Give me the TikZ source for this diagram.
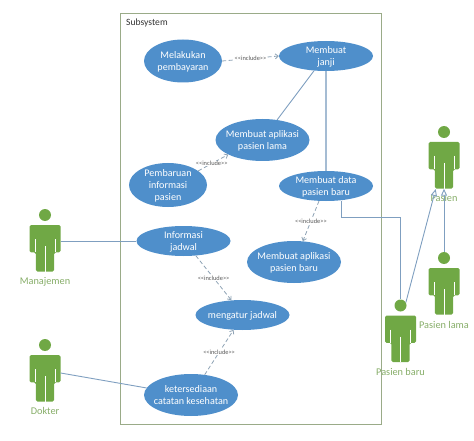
\documentclass[tikz,border=0pt]{standalone}
\usepackage{fontspec}
\setmainfont{Carlito}
\usetikzlibrary{shapes.geometric,arrows.meta}
\definecolor{usefill}{HTML}{4F8FCB}
\definecolor{actgreen}{HTML}{70A845}
\definecolor{actlabel}{HTML}{86AD68}
\definecolor{framec}{HTML}{9AAB88}
\definecolor{linec}{HTML}{7F9FC0}
\definecolor{dashc}{HTML}{8FA3B5}
\newcommand{\usetext}[1]{\smash{\raisebox{-3.5pt}{\makebox[0pt][c]{\begin{tabular}{@{}c@{}}#1\end{tabular}}}}}
\tikzset{
  usecase/.style={ellipse,fill=usefill,text=white,inner sep=0pt,font=\fontsize{10.1}{12.4}\selectfont},
  uselarge/.style={usecase,minimum width=94pt,minimum height=42pt},
  usesmall/.style={usecase,minimum width=94pt,minimum height=30pt},
  usemid/.style={usecase,minimum width=78pt,minimum height=43pt},
  actorlabel/.style={text=actlabel,font=\fontsize{10.3}{12}\selectfont,inner sep=0pt},
  includelabel/.style={fill=white,text=black!65,font=\fontsize{6.4}{7}\selectfont,inner sep=0.6pt},
  includeline/.style={draw=dashc,line width=0.8pt,dash pattern=on 4pt off 2.5pt,-{Straight Barb[length=3pt,width=5pt]}},
  assocline/.style={draw=linec,line width=0.9pt},
  generalline/.style={draw=linec,line width=0.9pt,-{Triangle[open,length=7pt,width=6pt,fill=white]}},
  actorhead/.style={circle,fill=actgreen,minimum size=12pt,inner sep=0pt},
  actorbody/.style={minimum width=31pt,minimum height=46.5pt,inner sep=0pt}
}
\newcommand{\actorfig}[3]{%
  \node[actorhead] (#1head) at (#2,#3-10) {};
  \node[actorbody] (#1) at (#2,#3+23.25) {};
  \begin{scope}[shift={(#2,#3)}]
    \fill[actgreen,rounded corners=1.5pt] (-15.5,0) -- (15.5,0) -- (15.5,27.3) -- (9.2,27.3) -- (9.2,46.5) -- (-9.2,46.5) -- (-9.2,27.3) -- (-15.5,27.3) -- cycle;
    \draw[white,line width=0.8pt] (0,21) -- (0,46.6);
    \draw[white,line width=0.8pt] (-10,14) -- (-10,27.4);
    \draw[white,line width=0.8pt] (10,14) -- (10,27.4);
  \end{scope}}
\newcommand{\inclabel}{{<}{<}include{>}{>}}
\begin{document}
\begin{tikzpicture}[x=1pt,y=-1pt]
\useasboundingbox (0,0) rectangle (474,441);
\node[draw=framec,line width=0.8pt,minimum width=261pt,minimum height=410.5pt,inner sep=0pt] (subsys) at (250.5,218.75) {};
\node[anchor=west,inner sep=0pt,text=black!80,font=\fontsize{9.6}{11}\selectfont] (subsyslabel) at (126,22.5) {Subsystem};

\node[usemid] (bayar) at (183,61) {\usetext{Melakukan\\pembayaran}};
\node[usesmall] (janji) at (326,56) {\usetext{Membuat\\janji}};
\node[uselarge] (lama) at (262.5,140) {\usetext{Membuat aplikasi\\pasien lama}};
\node[usemid,minimum height=44pt] (update) at (168,185) {\usetext{Pembaruan\\informasi\\pasien}};
\node[usesmall] (data) at (326,186) {\usetext{Membuat data\\pasien baru}};
\node[usesmall] (info) at (183.5,241) {\usetext{Informasi\\jadwal}};
\node[uselarge] (baru) at (294,262) {\usetext{Membuat aplikasi\\pasien baru}};
\node[usesmall] (atur) at (242.5,315) {\usetext{mengatur jadwal}};
\node[uselarge] (sedia) at (191,395) {\usetext{ketersediaan\\catatan kesehatan}};

\actorfig{pasien}{444}{142}
\actorfig{plama}{444}{268}
\actorfig{pbaru}{400.5}{315.5}
\actorfig{manajer}{45}{225}
\actorfig{dokter}{45}{355}

\node[actorlabel] (lpasien) at (444,198) {Pasien};
\node[actorlabel] (lplama) at (444,325) {Pasien lama};
\node[actorlabel] (lpbaru) at (400.5,372) {Pasien baru};
\node[actorlabel] (lmanajer) at (45,282) {Manajemen};
\node[actorlabel] (ldokter) at (45,411) {Dokter};

\draw[includeline] (bayar.east) -- node[includelabel] {\inclabel} (janji.west);
\draw[includeline] (update.25) -- node[includelabel,pos=0.45] {\inclabel} (lama.203);
\draw[includeline] (data.245) -- node[includelabel] {\inclabel} (baru.67);
\draw[includeline] (info.310) -- node[includelabel] {\inclabel} (atur.127);
\draw[includeline] (sedia.56) -- node[includelabel] {\inclabel} (atur.239);

\draw[assocline] (janji.231) -- (lama.54);
\draw[assocline,draw=linec!70,line width=1.4pt] (janji.south) -- (data.north);
\draw[assocline] (manajer.east |- info.west) -- (info.west);
\draw[assocline] (dokter.east |- 0,373) -- (sedia.171);
\draw[assocline] (data.south -| 341,0) -- (341,217) -- (400.5,217) -- (pbaruhead.north);
\draw[generalline] (pbaruhead.30) -- (435.7,189);
\draw[generalline] (plamahead.north) -- (pasien.south);
\end{tikzpicture}
\end{document}
